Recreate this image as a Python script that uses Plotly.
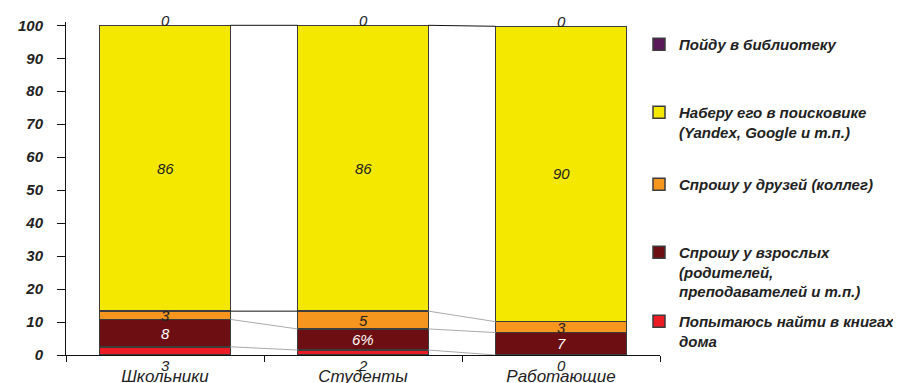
import plotly.graph_objects as go

categories = ["Школьники", "Студенты", "Работающие"]
series_names = [
    "Попытаюсь найти в книгах<br>дома",
    "Спрошу у взрослых<br>(родителей,<br>преподавателей и т.п.)",
    "Спрошу у друзей (коллег)",
    "Наберу его в поисковике<br>(Yandex, Google и т.п.)",
    "Пойду в библиотеку",
]
colors = ["#EC1C24", "#6D0E12", "#F7961E", "#F5E800", "#5A1A5A"]
label_colors = ["#222222", "#FFFFFF", "#222222", "#222222", "#222222"]

# drawn segment heights per series (bottom to top)
books = [2.5, 1.5, 0.0]
adults = [8.3, 6.4, 6.8]
friends = [2.5, 5.4, 3.3]
search = [86.7, 86.7, 89.6]
library = [0.0, 0.0, 0.0]
values = [books, adults, friends, search, library]

# printed labels
books_lbl = ["3", "2", "0"]
adults_lbl = ["8", "6%", "7"]
friends_lbl = ["3", "5", "3"]
search_lbl = ["86", "86", "90"]
library_lbl = ["0", "0", "0"]
labels = [books_lbl, adults_lbl, friends_lbl, search_lbl, library_lbl]

y_ticks = list(range(0, 101, 10))

FONT = "Liberation Sans, Arial, sans-serif"
x = list(range(len(categories)))
BW = 0.66

fig = go.Figure()

legend_ids = ["legend5", "legend4", "legend3", "legend2", "legend"]
for k, (name, vals) in enumerate(zip(series_names, values)):
    fig.add_trace(go.Bar(
        x=x, y=vals, name=name, width=BW,
        marker=dict(color=colors[k], line=dict(color="#3C3C3C", width=1.5)),
        legend=legend_ids[k], hoverinfo="skip",
    ))

# cumulative tops
cum = []
for i in range(len(categories)):
    c, acc = [], 0.0
    for k in range(len(values)):
        acc += values[k][i]
        c.append(acc)
    cum.append(c)

# series lines between bars
for k in range(len(values) - 1):
    for i in range(len(categories) - 1):
        y0, y1 = cum[i][k], cum[i + 1][k]
        col = "#111111" if abs(y0 - y1) < 0.05 or k == len(values) - 2 else "#AAAAAA"
        fig.add_trace(go.Scatter(
            x=[i + BW / 2, i + 1 - BW / 2], y=[y0, y1], mode="lines",
            line=dict(color=col, width=1), showlegend=False, hoverinfo="skip",
        ))

# data labels
for k in range(len(values)):
    for i in range(len(categories)):
        top = cum[i][k]
        bot = top - values[k][i]
        if k == 0:
            yv, ya, ys = 0, "top", 0
        elif k == len(values) - 1:
            yv, ya, ys = top, "middle", 5
        else:
            yv, ya, ys = (top + bot) / 2, "middle", 0
        fig.add_annotation(
            x=x[i], y=yv, text=labels[k][i], showarrow=False, yanchor=ya, yshift=ys,
            font=dict(family=FONT, size=15, style="italic", color=label_colors[k]),
        )

# the page body adds an 8px offset; figure sized to the visible area
W, H = 893, 375
leg_common = dict(
    font=dict(family=FONT, size=15, style="italic", weight="bold", color="#222222"),
    bgcolor="rgba(0,0,0,0)", valign="top", xanchor="left", yanchor="top",
    itemwidth=30, tracegroupgap=0, xref="container", yref="container",
)
def lx(px):
    return px / W
def ly(px):
    return 1 - px / H

LX = lx(631)
layout_legends = {
    "legend": dict(x=LX, y=ly(20), **leg_common),
    "legend2": dict(x=LX, y=ly(88), **leg_common),
    "legend3": dict(x=LX, y=ly(160), **leg_common),
    "legend4": dict(x=LX, y=ly(228), **leg_common),
    "legend5": dict(x=LX, y=ly(297), **leg_common),
}

fig.update_layout(
    width=W, height=H,
    margin=dict(l=58, r=241, t=14, b=28, autoexpand=False),
    paper_bgcolor="white", plot_bgcolor="white",
    barmode="stack", showlegend=True,
    xaxis=dict(
        range=[-0.5, 2.5], tickvals=x, ticktext=categories, ticks="",
        showline=True, linecolor="#111111", linewidth=1, showgrid=False, zeroline=False,
        tickfont=dict(family=FONT, size=17, style="italic", color="#222222"),
        minor=dict(tickvals=[-0.5, 0.5, 1.5, 2.5], ticks="outside", ticklen=6, tickcolor="#111111"),
        ticklabelstandoff=6,
    ),
    yaxis=dict(
        range=[0, 101], tickvals=y_ticks, ticks="outside", ticklen=8, tickcolor="#111111",
        showline=True, linecolor="#111111", linewidth=1, showgrid=False, zeroline=False,
        tickfont=dict(family=FONT, size=15, style="italic", weight="bold", color="#222222"),
        ticklabelstandoff=11,
    ),
    **layout_legends,
)

fig.write_html("out.html")
